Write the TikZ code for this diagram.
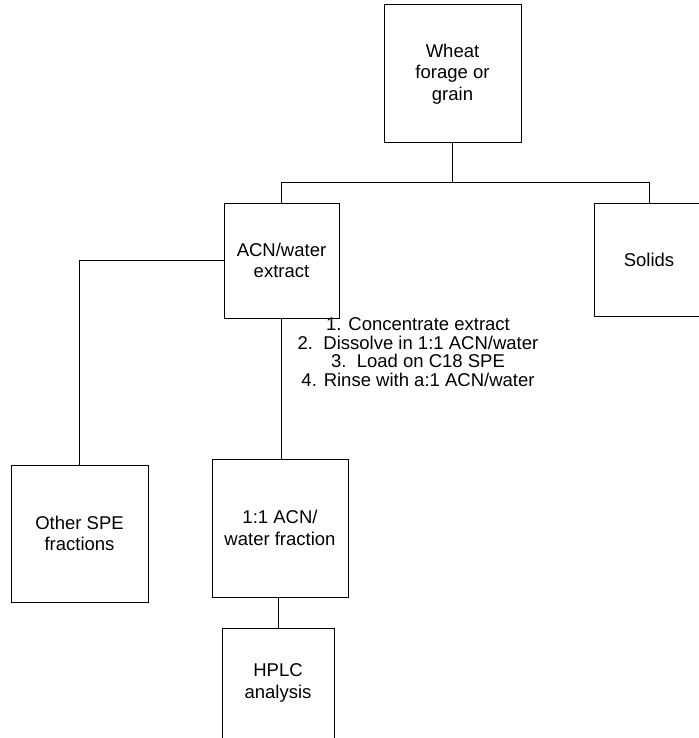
\documentclass[tikz,border=0pt]{standalone}
\usepackage{fontspec}
\setmainfont{Liberation Sans}
\begin{document}
\begin{tikzpicture}[x=1pt,y=-1pt,
  box/.style={draw=black, line width=1pt, rectangle, inner sep=0pt, align=center,
    font=\fontsize{18.5}{21.5}\selectfont},
  link/.style={draw=black, line width=1pt}]
\useasboundingbox (0,0) rectangle (698,738);
\node[box, minimum width=137pt, minimum height=138pt] (wheat) at (452.5,74) {Wheat\\forage or\\grain};
\node[box, minimum width=115pt, minimum height=115pt] (acn) at (281.5,260.5) {ACN/water\\extract};
\node[box, minimum width=110pt, minimum height=113pt] (solids) at (649,259.5) {Solids};
\node[box, minimum width=137pt, minimum height=137pt] (other) at (79.5,533.5) {Other SPE\\fractions};
\node[box, minimum width=136pt, minimum height=138pt] (frac) at (280,528) {1:1 ACN/\\water fraction};
\node[box, minimum width=112pt, minimum height=110pt] (hplc) at (278,683) {HPLC\\analysis};
\node[align=center, inner sep=0pt, font=\fontsize{18.5}{18.5}\selectfont] (steps) at (418,352)
  {1. Concentrate extract\\2.\ \ Dissolve in 1:1 ACN/water\\3.\ \ Load on C18 SPE\\4. Rinse with a:1 ACN/water};
\coordinate (j1) at (452.5,182);
\draw[link] (wheat.south) -- (j1);
\draw[link] (acn.north) |- (j1);
\draw[link] (solids.north) |- (j1);
\draw[link] (acn.west) -| (other.north);
\draw[link] (acn.south) -- (acn.south |- frac.north);
\draw[link] (hplc.north |- frac.south) -- (hplc.north);
\end{tikzpicture}
\end{document}
